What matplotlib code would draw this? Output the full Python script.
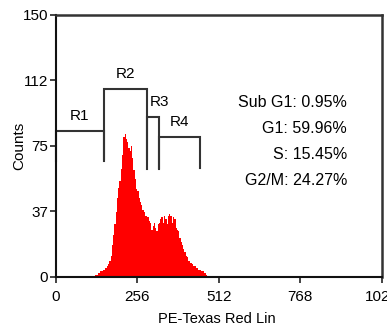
import numpy as np
import matplotlib
matplotlib.use('Agg')
import matplotlib.pyplot as plt

plt.rcParams['font.family'] = ['Liberation Sans Narrow', 'Liberation Sans', 'DejaVu Sans']

# histogram: PE-Texas Red channel, bins of 4 channels starting at 124
bin_start = 124
bin_width = 4
counts = [1, 1, 2, 2, 3, 3, 4, 4, 5, 6,
          7, 9, 12, 18, 24, 30, 37, 45, 51, 55,
          62, 70, 80, 82, 79, 77, 74, 72, 75, 68,
          61, 56, 50, 49, 45, 43, 41, 38, 37, 35,
          35, 34, 32, 31, 27, 29, 31, 28, 26, 30,
          31, 33, 34, 31, 35, 33, 30, 35, 36, 35,
          31, 34, 33, 28, 27, 26, 22, 20, 18, 16,
          14, 12, 11, 9, 8, 8, 7, 6, 6, 5,
          5, 4, 4, 3, 3, 2, 2, 1]

# gate regions (marker brackets)
region_names = ['R1', 'R2', 'R3', 'R4']
region_lo = [0, 152, 285, 323]
region_hi = [152, 285, 323, 452]
region_top = [83.5, 107.4, 91.3, 79.9]
region_bottom = [66.5, 67.3, 61.5, 62.1]

stats_labels = ['Sub G1: 0.95%', 'G1: 59.96%', 'S: 15.45%', 'G2/M: 24.27%']

xticks = [0, 256, 512, 768, 1024]
yticks = [0, 37.5, 75, 112.5, 150]
ytick_labels = ['0', '37', '75', '112', '150']

fig = plt.figure(figsize=(3.87, 3.33), dpi=100)
ax = fig.add_axes([0.1439, 0.1691, 0.8432, 0.7859])

edges = bin_start + bin_width * np.arange(len(counts) + 1)
ax.stairs(counts, edges, fill=True, color='#ff0000', lw=0)

for name, lo, hi, top, bot in zip(region_names, region_lo, region_hi, region_top, region_bottom):
    ax.plot([lo, lo, hi, hi], [bot, top, top, bot], color='#333333', lw=1.5,
            solid_joinstyle='miter', clip_on=False)
    nudge = 5 if name == 'R3' else 0
    ax.annotate(name, xy=((lo + hi) / 2, top), xytext=(nudge, 11),
                textcoords='offset points', ha='center', va='center', fontsize=11)

for i, s in enumerate(stats_labels):
    ax.text(0.893, 0.667 - i * 0.0995, s, transform=ax.transAxes,
            ha='right', va='center', fontsize=11.5)

ax.set_xlim(0, 1024)
ax.set_ylim(0, 150)
ax.set_xticks(xticks)
ax.set_xticklabels([str(t) for t in xticks])
ax.set_yticks(yticks)
ax.set_yticklabels(ytick_labels)
ax.tick_params(axis='both', direction='out', length=4.5, width=1.2, color='#222222',
               labelsize=11)
ax.tick_params(axis='x', pad=5)
ax.tick_params(axis='y', pad=1)

ax.set_xlabel('PE-Texas Red Lin', fontsize=10.5)
ax.xaxis.set_label_coords(0.494, -0.135)
ax.set_ylabel('Counts', fontsize=11)
ax.yaxis.set_label_coords(-0.09, 0.5)

for side in ['left', 'bottom']:
    ax.spines[side].set_color('#111111')
    ax.spines[side].set_linewidth(1.5)
for side in ['top', 'right']:
    ax.spines[side].set_color('#333333')
    ax.spines[side].set_linewidth(1.8)

fig.savefig('out.png', dpi=100)
